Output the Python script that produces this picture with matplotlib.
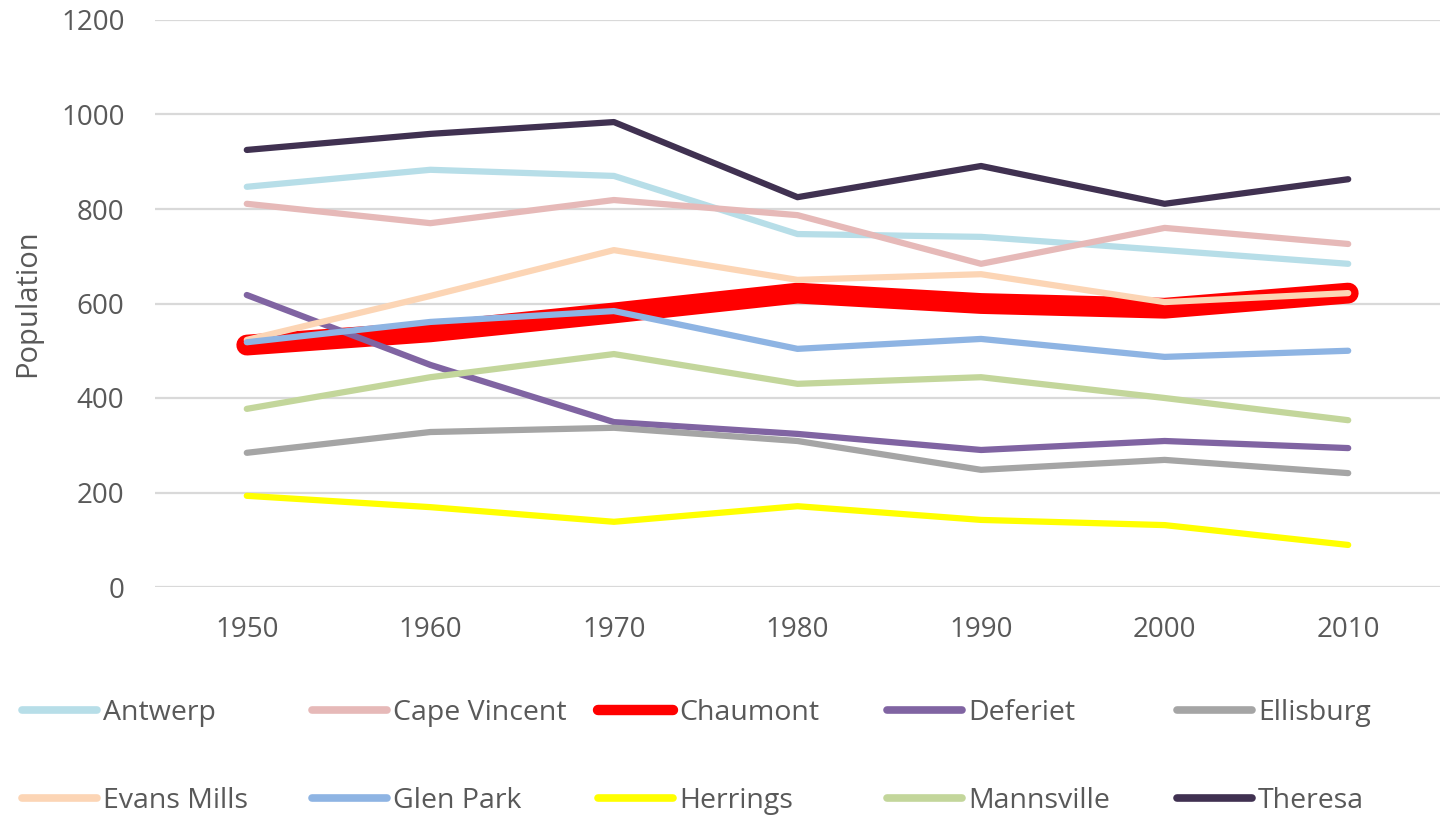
import matplotlib
matplotlib.use("Agg")
import matplotlib.pyplot as plt

plt.rcParams['font.family'] = ['Open Sans', 'DejaVu Sans']

years = ['1950', '1960', '1970', '1980', '1990', '2000', '2010']

towns = ['Antwerp', 'Cape Vincent', 'Chaumont', 'Deferiet', 'Ellisburg',
         'Evans Mills', 'Glen Park', 'Herrings', 'Mannsville', 'Theresa']

antwerp = [847, 883, 870, 747, 741, 713, 684]
cape_vincent = [811, 770, 819, 787, 684, 760, 726]
chaumont = [512, 540, 580, 622, 600, 590, 622]
deferiet = [618, 470, 349, 324, 290, 309, 294]
ellisburg = [284, 328, 337, 309, 248, 269, 241]
evans_mills = [523, 616, 713, 650, 662, 603, 622]
glen_park = [518, 561, 584, 504, 525, 487, 500]
herrings = [193, 169, 138, 171, 142, 131, 89]
mannsville = [377, 444, 493, 430, 444, 400, 353]
theresa = [925, 959, 984, 825, 891, 811, 863]

series = [antwerp, cape_vincent, chaumont, deferiet, ellisburg,
          evans_mills, glen_park, herrings, mannsville, theresa]

colors = ['#B7DEE8', '#E6B9B8', '#FF0000', '#8064A2', '#A5A5A5',
          '#FCD5B5', '#8EB4E3', '#FFFF00', '#C3D69B', '#403151']

txt = '#595959'

fig = plt.figure(figsize=(14.41, 8.19), dpi=100)
ax = fig.add_axes([155 / 1441, 1 - 587 / 819, 1285 / 1441, 567 / 819])

xs = list(range(len(years)))
handles = []
for name, vals, c in zip(towns, series, colors):
    lw = 15 if name == 'Chaumont' else 4.5
    h, = ax.plot(xs, vals, color=c, lw=lw, label=name,
                 solid_capstyle='round', solid_joinstyle='round')
    handles.append(h)

ax.set_xlim(-0.5, 6.5)
ax.set_ylim(0, 1200)
ax.set_yticks(range(0, 1201, 200))
ax.set_xticks(xs)
ax.set_xticklabels(years)
ax.grid(axis='y', color='#D9D9D9', lw=1.6)
ax.set_axisbelow(True)
for s in ax.spines.values():
    s.set_visible(False)
ax.tick_params(length=0, labelsize=20, colors=txt)
ax.tick_params(axis='x', pad=21)
ax.tick_params(axis='y', pad=22)
ax.set_ylabel('Population', fontsize=21, color=txt)
ax.yaxis.set_label_coords(-113 / 1285, 0.5)

# legend: 5 columns, 2 rows, Excel-like even spacing
col_x = [22, 312, 598, 887, 1177]
for j in range(5):
    hs = [handles[j], handles[j + 5]]
    leg_h = []
    for h in hs:
        w = 7.5 if h.get_label() == 'Chaumont' else 5.5
        lh, = plt.plot([], [], color=h.get_color(), lw=w,
                       solid_capstyle='round')
        leg_h.append(lh)
    fig.legend(leg_h, [h.get_label() for h in hs], loc='upper left',
               bbox_to_anchor=(col_x[j] / 1441, 1 - 699 / 819),
               frameon=False, fontsize=20.5, labelcolor=txt,
               handlelength=2.65, handletextpad=0.2, labelspacing=2.1,
               borderpad=0, borderaxespad=0)

fig.savefig('out.png', dpi=100)
